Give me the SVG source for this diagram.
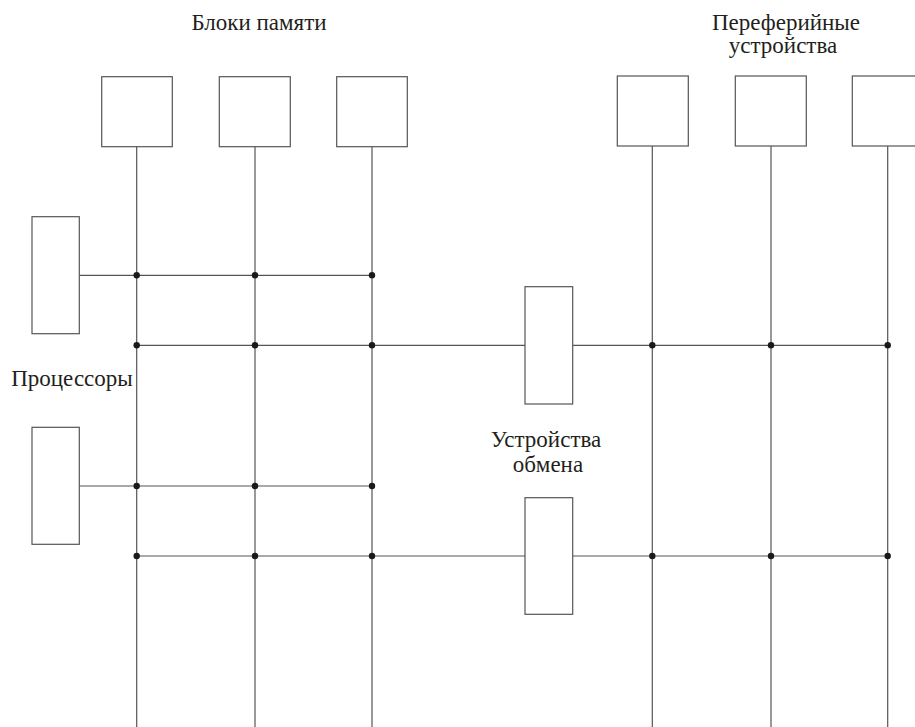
<svg xmlns="http://www.w3.org/2000/svg" width="915" height="727" viewBox="0 0 915 727">
<style>
.box{fill:#fff;stroke:#555;stroke-width:1.2}
.ln{stroke:#555;stroke-width:1.2;fill:none}
.dot{fill:#1a1a1a}
.t{font-family:"Liberation Serif","Times New Roman",serif;font-size:23px;fill:#231f20;text-anchor:middle}
</style>
<rect width="915" height="727" fill="#fff"/>
<g id="connectors">
<line class="ln" x1="136.7" y1="146.7" x2="136.7" y2="727"/>
<line class="ln" x1="255" y1="146.7" x2="255" y2="727"/>
<line class="ln" x1="372" y1="146.7" x2="372" y2="727"/>
<line class="ln" x1="652.3" y1="146" x2="652.3" y2="727"/>
<line class="ln" x1="771" y1="146" x2="771" y2="727"/>
<line class="ln" x1="887.7" y1="146" x2="887.7" y2="727"/>
<line class="ln" x1="79.3" y1="275.3" x2="372" y2="275.3"/>
<line class="ln" x1="79.3" y1="486" x2="372" y2="486"/>
<line class="ln" x1="136.7" y1="345.3" x2="525" y2="345.3"/>
<line class="ln" x1="572.7" y1="345.3" x2="887.7" y2="345.3"/>
<line class="ln" x1="136.7" y1="556" x2="525" y2="556"/>
<line class="ln" x1="572.7" y1="556" x2="887.7" y2="556"/>
<g id="dots">
<circle class="dot" cx="136.7" cy="275.3" r="3.2"/>
<circle class="dot" cx="255" cy="275.3" r="3.2"/>
<circle class="dot" cx="372" cy="275.3" r="3.2"/>
<circle class="dot" cx="136.7" cy="345.3" r="3.2"/>
<circle class="dot" cx="255" cy="345.3" r="3.2"/>
<circle class="dot" cx="372" cy="345.3" r="3.2"/>
<circle class="dot" cx="652.3" cy="345.3" r="3.2"/>
<circle class="dot" cx="771" cy="345.3" r="3.2"/>
<circle class="dot" cx="887.7" cy="345.3" r="3.2"/>
<circle class="dot" cx="136.7" cy="486" r="3.2"/>
<circle class="dot" cx="255" cy="486" r="3.2"/>
<circle class="dot" cx="372" cy="486" r="3.2"/>
<circle class="dot" cx="136.7" cy="556" r="3.2"/>
<circle class="dot" cx="255" cy="556" r="3.2"/>
<circle class="dot" cx="372" cy="556" r="3.2"/>
<circle class="dot" cx="652.3" cy="556" r="3.2"/>
<circle class="dot" cx="771" cy="556" r="3.2"/>
<circle class="dot" cx="887.7" cy="556" r="3.2"/>
</g>
</g>
<g id="mem1"><rect class="box" x="101.7" y="76.7" width="70.6" height="70"/></g>
<g id="mem2"><rect class="box" x="219.3" y="76.7" width="71" height="70"/></g>
<g id="mem3"><rect class="box" x="336.7" y="76.7" width="70.6" height="70"/></g>
<g id="per1"><rect class="box" x="617.3" y="76" width="71" height="70"/></g>
<g id="per2"><rect class="box" x="735.3" y="76" width="71" height="70"/></g>
<g id="per3"><rect class="box" x="852.3" y="76" width="71" height="70"/></g>
<g id="cpu1"><rect class="box" x="32" y="216.7" width="47.3" height="117"/></g>
<g id="cpu2"><rect class="box" x="32" y="427.3" width="47.3" height="117"/></g>
<g id="io1"><rect class="box" x="525" y="286.7" width="47.7" height="117.3"/></g>
<g id="io2"><rect class="box" x="525" y="497.7" width="47.7" height="116.6"/></g>
<g id="labels">
<text class="t" x="259" y="30">Блоки памяти</text>
<text class="t" x="786" y="30">Переферийные</text>
<text class="t" x="783" y="53">устройства</text>
<text class="t" x="72" y="385.7">Процессоры</text>
<text class="t" x="546" y="446.7">Устройства</text>
<text class="t" x="548" y="471.7">обмена</text>
</g>
</svg>
